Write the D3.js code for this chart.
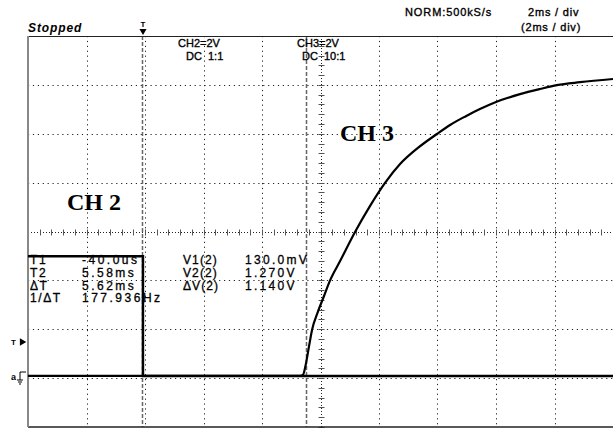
<html>
<head>
<script src="https://d3js.org/d3.v7.min.js"></script>
<style>
body{margin:0;background:#fff;}
svg{display:block;}
</style>
</head>
<body>
<script>

// scope screen: 10 x 8 divisions, 2 ms/div, 2 V/div
var timeRange = [-3.93, 16.07];   // ms, relative to trigger
var voltRange = [-2.09, 13.91];   // V, relative to ground marker

// CH2 square wave
var ch2Time = [-3.93, 0, 0, 16.07];
var ch2Volt = [4.9, 4.9, 0, 0];

// CH3 charging curve
var ch3Time = [-3.93, 5.37, 5.47, 5.57, 5.68, 5.78, 5.98, 6.19, 6.39, 6.74, 7.25, 7.76, 8.27, 8.79, 9.40, 10.05, 10.50, 11.04, 11.52, 12.07, 12.89, 13.57, 14.15, 14.94, 16.07];
var ch3Volt = [0, 0, 0.04, 0.49, 1.23, 1.88, 2.62, 3.27, 3.89, 4.70, 5.89, 6.95, 7.89, 8.67, 9.33, 9.90, 10.27, 10.63, 10.92, 11.21, 11.53, 11.74, 11.90, 12.02, 12.15];

var cursorTimes = [-0.04, 5.58];
var triggerTime = 0;
var triggerLevel = 1.39;

var readLabels = ["T1", "T2", "\u0394T", "1/\u0394T"];
var readValues = ["-40.0us", "5.58ms", "5.62ms", "177.936Hz"];
var voltLabels = ["V1(2)", "V2(2)", "\u0394V(2)"];
var voltValues = ["130.0mV", "1.270V", "1.140V"];

var width = 613;
var height = 429;
var box = {left:28, right:613, top:36, bottom:427};

var svg = d3.select("body").append("svg")
    .attr("width", width)
    .attr("height", height)
    .style("background", "#fff");

var gx = d3.scaleLinear().domain([0, 10]).range([box.left, box.right]);
var gy = d3.scaleLinear().domain([0, 8]).range([box.top, box.bottom]);
var x = d3.scaleLinear().domain(timeRange).range([box.left, box.right]);
var y = d3.scaleLinear().domain(voltRange).range([box.bottom, box.top]);

// graticule
var grid = svg.append("g")
    .attr("stroke", "#222")
    .attr("stroke-width", 1)
    .attr("stroke-dasharray", "1.2,3.7");

grid.selectAll(".vg")
  .data(d3.range(1, 10).filter(function(d){ return d != 5; }))
  .enter().append("line")
    .attr("x1", function(d){ return Math.round(gx(d)) + 0.5; })
    .attr("x2", function(d){ return Math.round(gx(d)) + 0.5; })
    .attr("y1", box.top)
    .attr("y2", box.bottom);

grid.selectAll(".hg")
  .data(d3.range(1, 8).filter(function(d){ return d != 4; }))
  .enter().append("line")
    .attr("y1", function(d){ return Math.round(gy(d)) + 0.5; })
    .attr("y2", function(d){ return Math.round(gy(d)) + 0.5; })
    .attr("x1", box.left)
    .attr("x2", box.right);

// centre lines with minor ticks
var cx = Math.round(gx(5)) + 0.5;
var cy = Math.round(gy(4)) + 0.5;
var centre = svg.append("g").attr("stroke", "#222").attr("stroke-width", 1);
centre.append("line")
    .attr("x1", cx).attr("x2", cx)
    .attr("y1", box.top).attr("y2", box.bottom)
    .attr("stroke-dasharray", "1,2");
centre.append("line")
    .attr("y1", cy).attr("y2", cy)
    .attr("x1", box.left).attr("x2", box.right)
    .attr("stroke-dasharray", "1,2");
centre.selectAll(".tx")
  .data(d3.range(0, 50.5, 1))
  .enter().append("line")
    .attr("x1", function(d){ return Math.round(gx(d / 5)) + 0.5; })
    .attr("x2", function(d){ return Math.round(gx(d / 5)) + 0.5; })
    .attr("y1", cy - 3).attr("y2", cy + 3)
    .attr("stroke", "#555");
centre.selectAll(".ty")
  .data(d3.range(0, 40.5, 1))
  .enter().append("line")
    .attr("y1", function(d){ return Math.round(gy(d / 5)) + 0.5; })
    .attr("y2", function(d){ return Math.round(gy(d / 5)) + 0.5; })
    .attr("x1", cx - 3).attr("x2", cx + 3)
    .attr("stroke", "#555");

// time cursors
svg.append("g").selectAll("line")
  .data(cursorTimes)
  .enter().append("line")
    .attr("x1", function(d){ return Math.round(x(d)) + 0.5; })
    .attr("x2", function(d){ return Math.round(x(d)) + 0.5; })
    .attr("y1", box.top).attr("y2", box.bottom)
    .attr("stroke", "#666")
    .attr("stroke-width", 1.5)
    .attr("stroke-dasharray", "4,2");

// frame
svg.append("line")
    .attr("x1", box.left).attr("x2", box.right)
    .attr("y1", box.top + 0.5).attr("y2", box.top + 0.5)
    .attr("stroke", "#222");
svg.append("line")
    .attr("x1", box.left).attr("x2", box.right)
    .attr("y1", box.bottom).attr("y2", box.bottom)
    .attr("stroke", "#222").attr("stroke-width", 1.5);
svg.append("line")
    .attr("x1", box.left).attr("x2", box.left)
    .attr("y1", box.top).attr("y2", box.bottom)
    .attr("stroke", "#888").attr("stroke-width", 2);

// traces
var line = d3.line()
    .x(function(d){ return x(d[0]); })
    .y(function(d){ return y(d[1]); });

svg.append("path")
    .datum(d3.zip(ch3Time, ch3Volt))
    .attr("fill", "none")
    .attr("stroke", "#000")
    .attr("stroke-width", 2.2)
    .attr("stroke-linejoin", "round")
    .attr("d", line.curve(d3.curveMonotoneX));

svg.append("path")
    .datum(d3.zip(ch2Time, ch2Volt))
    .attr("fill", "none")
    .attr("stroke", "#000")
    .attr("stroke-width", 2.5)
    .attr("d", line.curve(d3.curveLinear));

// header texts
var sans = "'Liberation Sans', Arial, sans-serif";
svg.append("text")
    .attr("x", 28).attr("y", 32)
    .attr("font-family", sans)
    .attr("font-size", 12).attr("font-weight", "bold").attr("font-style", "italic")
    .attr("letter-spacing", 0.9)
    .text("Stopped");

var head = svg.append("g")
    .attr("font-family", sans)
    .attr("font-size", 11)
    .attr("fill", "#000")
    .attr("stroke", "#000")
    .attr("stroke-width", 0.35);
head.append("text").attr("x", 178).attr("y", 47).text("CH2=2V");
head.append("text").attr("x", 186).attr("y", 60).attr("xml:space", "preserve").text("DC  1:1");
head.append("text").attr("x", 297).attr("y", 47).text("CH3=2V");
head.append("text").attr("x", 302).attr("y", 60).attr("xml:space", "preserve").text("DC  10:1");
head.append("text").attr("x", 405).attr("y", 16).attr("letter-spacing", 0.9).text("NORM:500kS/s");
head.append("text").attr("x", 528).attr("y", 16).attr("letter-spacing", 0.8).text("2ms / div");
head.append("text").attr("x", 521).attr("y", 31).attr("letter-spacing", 0.8).text("(2ms / div)");

// trigger position marker
var tx = Math.round(x(triggerTime));
svg.append("text")
    .attr("x", tx).attr("y", 27)
    .attr("text-anchor", "middle")
    .attr("font-family", sans).attr("font-size", 8).attr("font-weight", "bold")
    .text("T");
svg.append("path")
    .attr("d", d3.symbol(d3.symbolTriangle, 22))
    .attr("transform", "translate(" + tx + ",31) rotate(180)")
    .attr("fill", "#000");

// trigger level marker
var ty = Math.round(y(triggerLevel));
svg.append("text")
    .attr("x", 11).attr("y", ty + 3)
    .attr("font-family", sans).attr("font-size", 8).attr("font-weight", "bold")
    .text("T");
svg.append("path")
    .attr("d", d3.symbol(d3.symbolTriangle, 24))
    .attr("transform", "translate(22," + ty + ") rotate(90)")
    .attr("fill", "#000");

// ground marker
var g0 = Math.round(y(0));
svg.append("text")
    .attr("x", 11).attr("y", g0 + 4)
    .attr("font-family", sans).attr("font-size", 9).attr("font-weight", "bold")
    .text("a");
var gnd = svg.append("g").attr("transform", "translate(18," + g0 + ")")
    .attr("stroke", "#000").attr("fill", "none").attr("stroke-width", 1);
gnd.append("path").attr("d", "M8,-4H2V4");
gnd.append("path").attr("d", "M-1,4H5M0,6H4M1,8H3");

// cursor readout
var read = svg.append("g")
    .attr("font-family", sans)
    .attr("font-size", 12)
    .attr("fill", "#000")
    .attr("stroke", "#000")
    .attr("stroke-width", 0.3);
read.selectAll(".rl")
  .data(readLabels)
  .enter().append("text")
    .attr("x", 30)
    .attr("y", function(d, i){ return 264 + i * 12.8; })
    .attr("letter-spacing", 1.6)
    .text(function(d){ return d; });
read.selectAll(".rv")
  .data(readValues)
  .enter().append("text")
    .attr("x", 82)
    .attr("y", function(d, i){ return 264 + i * 12.8; })
    .attr("letter-spacing", 2.5)
    .text(function(d){ return d; });
read.selectAll(".vl")
  .data(voltLabels)
  .enter().append("text")
    .attr("x", 183)
    .attr("y", function(d, i){ return 264 + i * 12.8; })
    .attr("letter-spacing", 1.1)
    .text(function(d){ return d; });
read.selectAll(".vv")
  .data(voltValues)
  .enter().append("text")
    .attr("x", 245)
    .attr("y", function(d, i){ return 264 + i * 12.8; })
    .attr("letter-spacing", 2.3)
    .text(function(d){ return d; });

// channel labels
var serif = "'Liberation Serif', 'Times New Roman', serif";
svg.append("text")
    .attr("x", 67).attr("y", 210)
    .attr("font-family", serif).attr("font-size", 24).attr("font-weight", "bold")
    .text("CH 2");
svg.append("text")
    .attr("x", 340).attr("y", 141)
    .attr("font-family", serif).attr("font-size", 24).attr("font-weight", "bold")
    .text("CH 3");

</script>
</body>
</html>
